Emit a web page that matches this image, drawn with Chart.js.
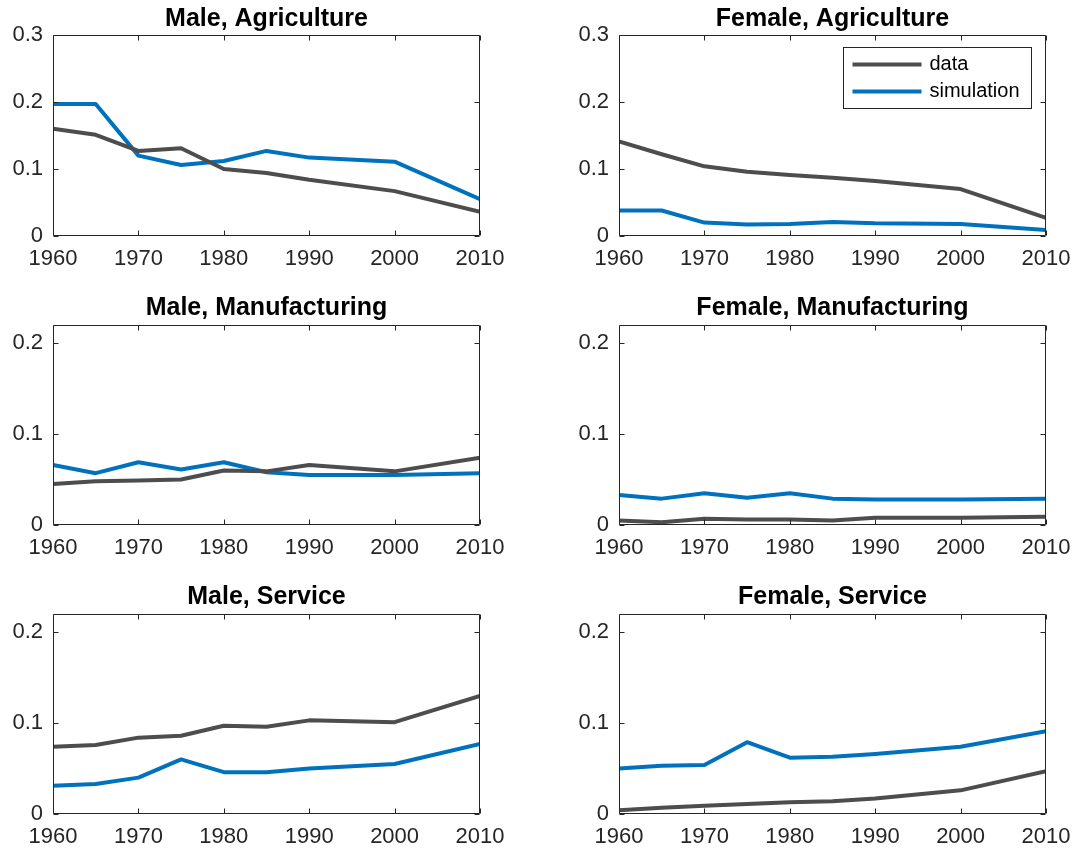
<!DOCTYPE html>
<html>
<head>
<meta charset="utf-8">
<script src="https://cdn.jsdelivr.net/npm/chart.js@4.4.1/dist/chart.umd.min.js"></script>
<style>
  html, body { margin: 0; padding: 0; background: #ffffff; }
  body { width: 1076px; height: 854px; position: relative; overflow: hidden; }
  canvas { position: absolute; display: block; }
</style>
</head>
<body>
<script>
// Survey years shared by every panel
const years = [1960, 1965, 1970, 1975, 1980, 1985, 1990, 2000, 2010];

// Axis tick labels
const xTickValues = [1960, 1970, 1980, 1990, 2000, 2010];
const agriYTicks = [0, 0.1, 0.2, 0.3];
const otherYTicks = [0, 0.1, 0.2];

// Panel titles
const panelTitles = [
  'Male, Agriculture', 'Female, Agriculture',
  'Male, Manufacturing', 'Female, Manufacturing',
  'Male, Service', 'Female, Service'
];

// Series labels
const seriesNames = ['data', 'simulation'];

// Agriculture
const maleAgriData   = [0.160, 0.151, 0.127, 0.131, 0.100, 0.094, 0.084, 0.067, 0.036];
const maleAgriSim    = [0.197, 0.197, 0.120, 0.106, 0.112, 0.127, 0.117, 0.111, 0.055];
const femaleAgriData = [0.141, 0.122, 0.104, 0.096, 0.091, 0.087, 0.082, 0.070, 0.027];
const femaleAgriSim  = [0.038, 0.038, 0.020, 0.017, 0.018, 0.021, 0.019, 0.018, 0.009];

// Manufacturing
const maleManuData   = [0.045, 0.048, 0.049, 0.050, 0.060, 0.059, 0.066, 0.059, 0.074];
const maleManuSim    = [0.066, 0.057, 0.069, 0.061, 0.069, 0.058, 0.055, 0.055, 0.057];
const femaleManuData = [0.005, 0.003, 0.007, 0.006, 0.006, 0.005, 0.008, 0.008, 0.009];
const femaleManuSim  = [0.033, 0.029, 0.035, 0.030, 0.035, 0.029, 0.028, 0.028, 0.029];

// Service
const maleServData   = [0.074, 0.076, 0.084, 0.086, 0.097, 0.096, 0.103, 0.101, 0.130];
const maleServSim    = [0.031, 0.033, 0.040, 0.060, 0.046, 0.046, 0.050, 0.055, 0.077];
const femaleServData = [0.004, 0.007, 0.009, 0.011, 0.013, 0.014, 0.017, 0.026, 0.047];
const femaleServSim  = [0.050, 0.053, 0.054, 0.079, 0.062, 0.063, 0.066, 0.074, 0.091];

const DATA_COLOR = '#4d4d4d';
const SIM_COLOR = '#0072bd';
const AXIS_COLOR = '#262626';
const FONT_FAMILY = '"Liberation Sans", Arial, Helvetica, sans-serif';

Chart.defaults.font.family = FONT_FAMILY;
Chart.defaults.color = AXIS_COLOR;

// Boxed axes with inward tick marks on all four sides
const boxAxesPlugin = {
  id: 'boxAxes',
  afterDatasetsDraw(chart) {
    const { ctx, chartArea: a, scales } = chart;
    const L = Math.round(a.left) + 0.5, R = Math.round(a.right) - 0.5;
    const T = Math.round(a.top) + 0.5, B = Math.round(a.bottom) - 0.5;
    const len = 5;
    ctx.save();
    ctx.strokeStyle = AXIS_COLOR;
    ctx.lineWidth = 1;
    ctx.beginPath();
    ctx.rect(L, T, R - L, B - T);
    scales.x.ticks.forEach(t => {
      const px = Math.round(scales.x.getPixelForValue(t.value)) + 0.5;
      ctx.moveTo(px, B); ctx.lineTo(px, B - len);
      ctx.moveTo(px, T); ctx.lineTo(px, T + len);
    });
    scales.y.ticks.forEach(t => {
      const py = Math.round(scales.y.getPixelForValue(t.value)) + 0.5;
      ctx.moveTo(L, py); ctx.lineTo(L + len, py);
      ctx.moveTo(R, py); ctx.lineTo(R - len, py);
    });
    ctx.stroke();
    ctx.restore();
  }
};

// Boxed legend placed inside the upper-right corner of the plot area
const insetLegendPlugin = {
  id: 'insetLegend',
  afterDraw(chart, args, opts) {
    if (!opts || !opts.show) return;
    const { ctx, chartArea: a } = chart;
    const fontSize = 20;
    ctx.save();
    ctx.font = fontSize + 'px ' + FONT_FAMILY;
    const textW = Math.max(...chart.data.datasets.map(d => ctx.measureText(d.label).width));
    const padL = 9, lineLen = 69, gap = 8, padR = 12;
    const w = Math.round(padL + lineLen + gap + textW + padR);
    const h = 61;
    const x0 = Math.round(a.right - 15 - w) + 0.5;
    const y0 = Math.round(a.top + 12) + 0.5;
    ctx.fillStyle = '#ffffff';
    ctx.fillRect(x0, y0, w, h);
    ctx.strokeStyle = AXIS_COLOR;
    ctx.lineWidth = 1;
    ctx.strokeRect(x0, y0, w, h);
    chart.data.datasets.forEach((d, i) => {
      const yy = y0 + 17 + i * 27;
      ctx.strokeStyle = d.borderColor;
      ctx.lineWidth = 4;
      ctx.beginPath();
      ctx.moveTo(x0 + padL, yy);
      ctx.lineTo(x0 + padL + lineLen, yy);
      ctx.stroke();
      ctx.fillStyle = '#000000';
      ctx.textBaseline = 'middle';
      ctx.textAlign = 'left';
      ctx.fillText(d.label, x0 + padL + lineLen + gap, yy);
    });
    ctx.restore();
  }
};

function toPoints(values) {
  return years.map((yr, i) => ({ x: yr, y: values[i] }));
}

function formatTick(v) {
  return String(Number(v.toFixed(3)));
}

// Panel geometry: canvas box, y-axis width, layout padding, title padding
const columns = [
  { left: 0,   width: 540, yAxisW: 53, padRight: 60 },
  { left: 540, width: 536, yAxisW: 79, padRight: 30 }
];
const rows = [
  { top: 0,   height: 285, padBottom: 9,  titleTop: 3.75, titleBottom: 1.25 },
  { top: 285, height: 290, padBottom: 10, titleTop: 7.75, titleBottom: 2.25 },
  { top: 575, height: 279, padBottom: 0,  titleTop: 6.75, titleBottom: 2.25 }
];

const panels = [
  { data: maleAgriData,   sim: maleAgriSim,   yMax: 0.3,  yTicks: agriYTicks },
  { data: femaleAgriData, sim: femaleAgriSim, yMax: 0.3,  yTicks: agriYTicks, legend: true },
  { data: maleManuData,   sim: maleManuSim,   yMax: 0.22, yTicks: otherYTicks },
  { data: femaleManuData, sim: femaleManuSim, yMax: 0.22, yTicks: otherYTicks },
  { data: maleServData,   sim: maleServSim,   yMax: 0.22, yTicks: otherYTicks },
  { data: femaleServData, sim: femaleServSim, yMax: 0.22, yTicks: otherYTicks }
];

panels.forEach((p, idx) => {
  const col = columns[idx % 2];
  const row = rows[Math.floor(idx / 2)];
  const canvas = document.createElement('canvas');
  canvas.width = col.width;
  canvas.height = row.height;
  canvas.style.left = col.left + 'px';
  canvas.style.top = row.top + 'px';
  canvas.style.width = col.width + 'px';
  canvas.style.height = row.height + 'px';
  document.body.appendChild(canvas);

  new Chart(canvas, {
    type: 'line',
    data: {
      datasets: [
        { label: seriesNames[0], data: toPoints(p.data), borderColor: DATA_COLOR,
          borderWidth: 4, pointRadius: 0, tension: 0, fill: false,
          borderJoinStyle: 'round', borderCapStyle: 'butt' },
        { label: seriesNames[1], data: toPoints(p.sim), borderColor: SIM_COLOR,
          borderWidth: 4, pointRadius: 0, tension: 0, fill: false,
          borderJoinStyle: 'round', borderCapStyle: 'butt' }
      ]
    },
    options: {
      responsive: false,
      animation: false,
      devicePixelRatio: 1,
      layout: { padding: { left: 0, right: col.padRight, top: 0, bottom: row.padBottom } },
      plugins: {
        legend: { display: false },
        tooltip: { enabled: false },
        title: {
          display: true,
          text: panelTitles[idx],
          fullSize: false,
          color: '#000000',
          font: { size: 25, weight: 'bold', family: FONT_FAMILY, lineHeight: 1.2 },
          padding: { top: row.titleTop, bottom: row.titleBottom }
        },
        insetLegend: { show: !!p.legend }
      },
      scales: {
        x: {
          type: 'linear',
          min: 1960,
          max: 2010,
          grid: { display: false, drawTicks: false, tickLength: 0 },
          border: { display: false },
          afterBuildTicks: s => { s.ticks = xTickValues.map(v => ({ value: v })); },
          afterFit: s => { s.height = 40; s.paddingLeft = 0; s.paddingRight = 0; },
          ticks: {
            autoSkip: false, maxRotation: 0, padding: 10,
            color: AXIS_COLOR, font: { size: 22 },
            callback: v => String(v)
          }
        },
        y: {
          type: 'linear',
          min: 0,
          max: p.yMax,
          grid: { display: false, drawTicks: false, tickLength: 0 },
          border: { display: false },
          afterBuildTicks: s => { s.ticks = p.yTicks.map(v => ({ value: v })); },
          afterFit: s => { s.width = col.yAxisW; s.paddingTop = 0; s.paddingBottom = 0; },
          ticks: {
            padding: 10, color: AXIS_COLOR, font: { size: 22 },
            callback: v => formatTick(v)
          }
        }
      }
    },
    plugins: [boxAxesPlugin, insetLegendPlugin]
  });
});
</script>
</body>
</html>
